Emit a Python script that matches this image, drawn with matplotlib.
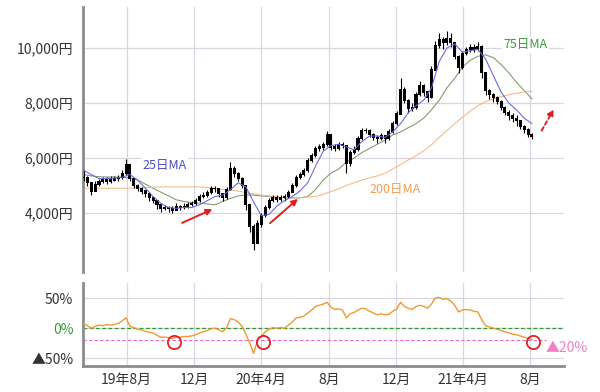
import numpy as np
import pandas as pd
import matplotlib.pyplot as plt

plt.rcParams['font.family'] = ['Noto Sans CJK JP', 'DejaVu Sans']

# weekly prices
weeks = pd.date_range('2019-05-15', periods=117, freq='7D')
close = [5300, 5100, 4800, 5050, 5150, 5200, 5150, 5200, 5250, 5300,
         5450, 5750, 5250, 5000, 4900, 4800, 4700, 4550, 4450, 4300,
         4150, 4200, 4150, 4100, 4250, 4200, 4250, 4300, 4350, 4450,
         4600, 4650, 4750, 4900, 4900, 4700, 4550, 4850, 5600, 5450,
         5250, 5000, 4300, 3500, 2900, 3600, 3900, 4200, 4450, 4550,
         4500, 4550, 4600, 4750, 5000, 5300, 5400, 5550, 5900, 6100,
         6350, 6400, 6500, 6850, 6400, 6350, 6500, 6450, 5800, 6200,
         6300, 6700, 7000, 7000, 6850, 6750, 6700, 6800, 6700, 6950,
         7250, 7600, 8500, 8100, 7800, 7850, 8300, 8650, 8400, 8200,
         9200, 10100, 10300, 10200, 10350, 10200, 9700, 9300, 9800, 9950,
         10000, 9950, 10050, 9100, 8450, 8300, 8200, 8050, 7850, 7650,
         7550, 7450, 7350, 7150, 7050, 6850, 6800]
high = [5550, 5350, 5100, 5150, 5250, 5300, 5300, 5350, 5350, 5400,
        5550, 5950, 5750, 5250, 5050, 4950, 4850, 4750, 4600, 4450,
        4300, 4300, 4250, 4250, 4350, 4300, 4350, 4400, 4450, 4550,
        4700, 4750, 4850, 5000, 5000, 4900, 4700, 4950, 5850, 5700,
        5500, 5300, 5000, 4300, 3600, 3750, 4000, 4300, 4550, 4650,
        4650, 4650, 4700, 4850, 5100, 5400, 5500, 5650, 6000, 6200,
        6450, 6500, 6600, 7000, 6850, 6500, 6600, 6600, 6450, 6300,
        6450, 6800, 7100, 7100, 7050, 6900, 6850, 6900, 6850, 7050,
        7350, 7700, 8900, 8600, 8150, 8000, 8400, 8800, 8700, 8450,
        9350, 10250, 10550, 10400, 10600, 10550, 10200, 9750, 9900, 10050,
        10150, 10150, 10200, 10100, 9100, 8500, 8350, 8250, 8100, 7900,
        7750, 7650, 7550, 7400, 7200, 7100, 6900]
low = [5150, 5000, 4650, 4800, 5000, 5100, 5050, 5100, 5150, 5150,
       5250, 5400, 5150, 4900, 4800, 4700, 4600, 4450, 4350, 4150,
       4050, 4100, 4050, 4000, 4100, 4100, 4150, 4200, 4250, 4300,
       4400, 4550, 4600, 4700, 4750, 4600, 4450, 4500, 4850, 5300,
       5150, 4900, 4100, 3300, 2650, 2900, 3500, 3850, 4150, 4400,
       4400, 4450, 4450, 4550, 4750, 4950, 5250, 5350, 5500, 5850,
       6050, 6250, 6300, 6450, 6300, 6250, 6300, 6350, 5450, 5700,
       6150, 6250, 6650, 6900, 6750, 6650, 6550, 6650, 6550, 6650,
       6900, 7200, 7600, 8000, 7650, 7700, 7800, 8250, 8250, 8050,
       8200, 9200, 10000, 9950, 10100, 10050, 9600, 9100, 9250, 9750,
       9850, 9850, 9900, 8900, 8300, 8150, 8050, 7950, 7750, 7550,
       7400, 7300, 7150, 7050, 6900, 6750, 6700]

# moving averages, read every second week
ma25 = [5550, 5400, 5250, 5250, 5270, 5300, 5400, 5200, 4900, 4600,
        4350, 4200, 4170, 4200, 4200, 4300, 4450, 4600, 4650, 4850,
        5100, 4950, 4400, 3900, 3950, 4250, 4450, 4600, 4800, 5100,
        5700, 6250, 6450, 6500, 6400, 6300, 6600, 6800, 6800, 6750,
        6950, 7250, 7650, 7900, 8100, 8550, 9500, 10000, 10150, 9850,
        9900, 9950, 9600, 9000, 8400, 8000, 7750, 7450, 7250]
ma75 = [5400, 5350, 5320, 5310, 5310, 5300, 5280, 5200, 5050, 4900,
        4760, 4620, 4480, 4420, 4380, 4360, 4330, 4300, 4420, 4530,
        4620, 4660, 4650, 4620, 4600, 4570, 4550, 4550, 4550, 4600,
        4850, 5200, 5450, 5600, 5850, 6000, 6200, 6350, 6500, 6650,
        6840, 6950, 7100, 7250, 7450, 7750, 8100, 8550, 8900, 9300,
        9550, 9700, 9750, 9650, 9400, 9100, 8750, 8450, 8150]
ma200 = [4900, 4900, 4900, 4900, 4900, 4900, 4900, 4920, 4930, 4940,
         4950, 4950, 4950, 4950, 4950, 4950, 4930, 4900, 4860, 4830,
         4800, 4740, 4700, 4650, 4620, 4590, 4560, 4550, 4560, 4580,
         4600, 4680, 4780, 4880, 5000, 5100, 5200, 5280, 5350, 5450,
         5600, 5760, 5930, 6080, 6260, 6480, 6750, 7000, 7250, 7480,
         7700, 7900, 8050, 8150, 8230, 8300, 8360, 8400, 8420]
ma_weeks = weeks[::2]

# 200-day deviation (%), weekly
kairi = [8, 4, 0, 3, 5, 4, 6, 5, 6, 8,
         12, 17, 3, 1, -2, -3, -5, -7, -8, -12,
         -15, -15, -16, -17, -15, -15, -14, -14, -13, -11,
         -8, -6, -4, -1, 0, -3, -6, 0, 16, 14,
         10, 3, -10, -25, -42, -20, -14, -6, -2, 1,
         0, 1, 0, 5, 10, 17, 18, 20, 25, 30,
         36, 38, 40, 43, 35, 31, 32, 30, 17, 24,
         26, 30, 33, 32, 28, 25, 22, 24, 22, 23,
         28, 32, 43, 36, 33, 31, 36, 38, 36, 33,
         40, 50, 51, 48, 49, 45, 38, 27, 30, 31,
         30, 28, 27, 14, 4, 2, 0, -2, -4, -6,
         -8, -10, -11, -13, -15, -17, -19]
circle_dates = pd.to_datetime(['2019-10-25', '2020-04-04', '2021-08-06'])
circle_level = [-23, -23, -23]

tick_dates = pd.to_datetime(['2019-08-01', '2019-12-01', '2020-04-01', '2020-08-01',
                             '2020-12-01', '2021-04-01', '2021-08-01'])
tick_labels = ['19年8月', '12月', '20年4月', '8月', '12月', '21年4月', '8月']
price_ticks = [4000, 6000, 8000, 10000]

xlim = (pd.Timestamp('2019-05-14'), pd.Timestamp('2021-10-01'))
grid_c = '#d9d6e0'
spine_c = '#8c8c8c'
txt_c = '#333333'

fig = plt.figure(figsize=(6, 3.92), dpi=100)
ax = fig.add_axes([0.1383, 0.3061, 0.8017, 0.676])
ax2 = fig.add_axes([0.1383, 0.0663, 0.8017, 0.2117])

# candles
close = np.array(close)
opn = np.r_[close[0], close[:-1]]
ax.vlines(weeks, low, high, color='black', lw=0.8, zorder=3)
ax.bar(weeks, np.abs(close - opn) + 40, bottom=np.minimum(opn, close) - 20,
       width=5.5, color='black', zorder=3)

ax.plot(ma_weeks, ma25, color='#6464e6', lw=0.75, zorder=4)
ax.plot(ma_weeks, ma75, color='#7a9868', lw=0.75, zorder=2)
ax.plot(ma_weeks, ma200, color='#f4b884', lw=0.75, zorder=2)

box = dict(facecolor='white', edgecolor='none', pad=1)
ax.text(pd.Timestamp('2019-10-09'), 5745, '25日MA', color='#4b4bc8', fontsize=9,
        ha='center', va='center', bbox=box, zorder=5)
ax.text(pd.Timestamp('2021-07-23'), 10110, '75日MA', color='#3c9a3c', fontsize=9,
        ha='center', va='center', bbox=box, zorder=5)
ax.text(pd.Timestamp('2020-11-29'), 4873, '200日MA', color='#f0a050', fontsize=9,
        ha='center', va='center', bbox=box, zorder=5)

arrow = dict(arrowstyle='-|>', color='#e02020', lw=1.4, mutation_scale=9)
ax.annotate('', xy=(pd.Timestamp('2020-01-08'), 4180), xytext=(pd.Timestamp('2019-11-05'), 3600),
            arrowprops=arrow, zorder=6)
ax.annotate('', xy=(pd.Timestamp('2020-06-10'), 4580), xytext=(pd.Timestamp('2020-04-13'), 3565),
            arrowprops=arrow, zorder=6)
ax.annotate('', xy=(pd.Timestamp('2021-09-15'), 7855), xytext=(pd.Timestamp('2021-08-19'), 6910),
            arrowprops=dict(arrowstyle='-|>', color='#e02020', lw=1.4, ls=(0, (2, 1.5)),
                            mutation_scale=9), zorder=6)

ax.set_xlim(xlim)
ax.set_ylim(1855, 11490)
ax.set_yticks(price_ticks)
ax.set_yticklabels([f'{v:,}円' for v in price_ticks])
ax.set_xticks(tick_dates)
ax.tick_params(axis='x', length=0, labelbottom=False)
ax.tick_params(axis='y', length=0, labelsize=10, labelcolor=txt_c, pad=7)
ax.grid(color=grid_c, lw=0.9, zorder=0)
for s in ['top', 'right', 'bottom']:
    ax.spines[s].set_visible(False)
ax.spines['left'].set_color(spine_c)
ax.spines['left'].set_linewidth(2)

# lower panel: deviation from 200-day MA
ax2.plot(weeks, kairi, color='#f09a30', lw=1.0, zorder=3)
ax2.axhline(0, color='#2f9a2f', lw=0.9, ls=(0, (3, 2)), zorder=2)
ax2.plot([xlim[0], pd.Timestamp('2021-08-30')], [-20, -20], color='#ee66cc', lw=0.8,
         ls=(0, (3, 2)), zorder=2)
ax2.plot(circle_dates, circle_level, 'o', ms=9.5, mfc='none', mec='#e02020', mew=1.3, zorder=4)
ax2.text(pd.Timestamp('2021-08-29'), -33, '▲20%', color='#f080c8', fontsize=10,
         ha='left', va='center', clip_on=False)

ax2.set_xlim(xlim)
ax2.set_ylim(-63, 75)
ax2.set_yticks([50, 0, -50])
ax2.set_yticklabels(['50%', '0%', '▲50%'])
ax2.set_xticks(tick_dates)
ax2.set_xticklabels(tick_labels)
ax2.tick_params(axis='both', length=0, labelsize=10, labelcolor=txt_c)
ax2.tick_params(axis='y', pad=7)
ax2.tick_params(axis='x', pad=5)
ax2.get_yticklabels()[1].set_color('#3c9a3c')
ax2.grid(color=grid_c, lw=0.9, zorder=0)
for s in ['top', 'right']:
    ax2.spines[s].set_visible(False)
for s in ['left', 'bottom']:
    ax2.spines[s].set_color(spine_c)
    ax2.spines[s].set_linewidth(2)

fig.savefig('out.png', dpi=100)
